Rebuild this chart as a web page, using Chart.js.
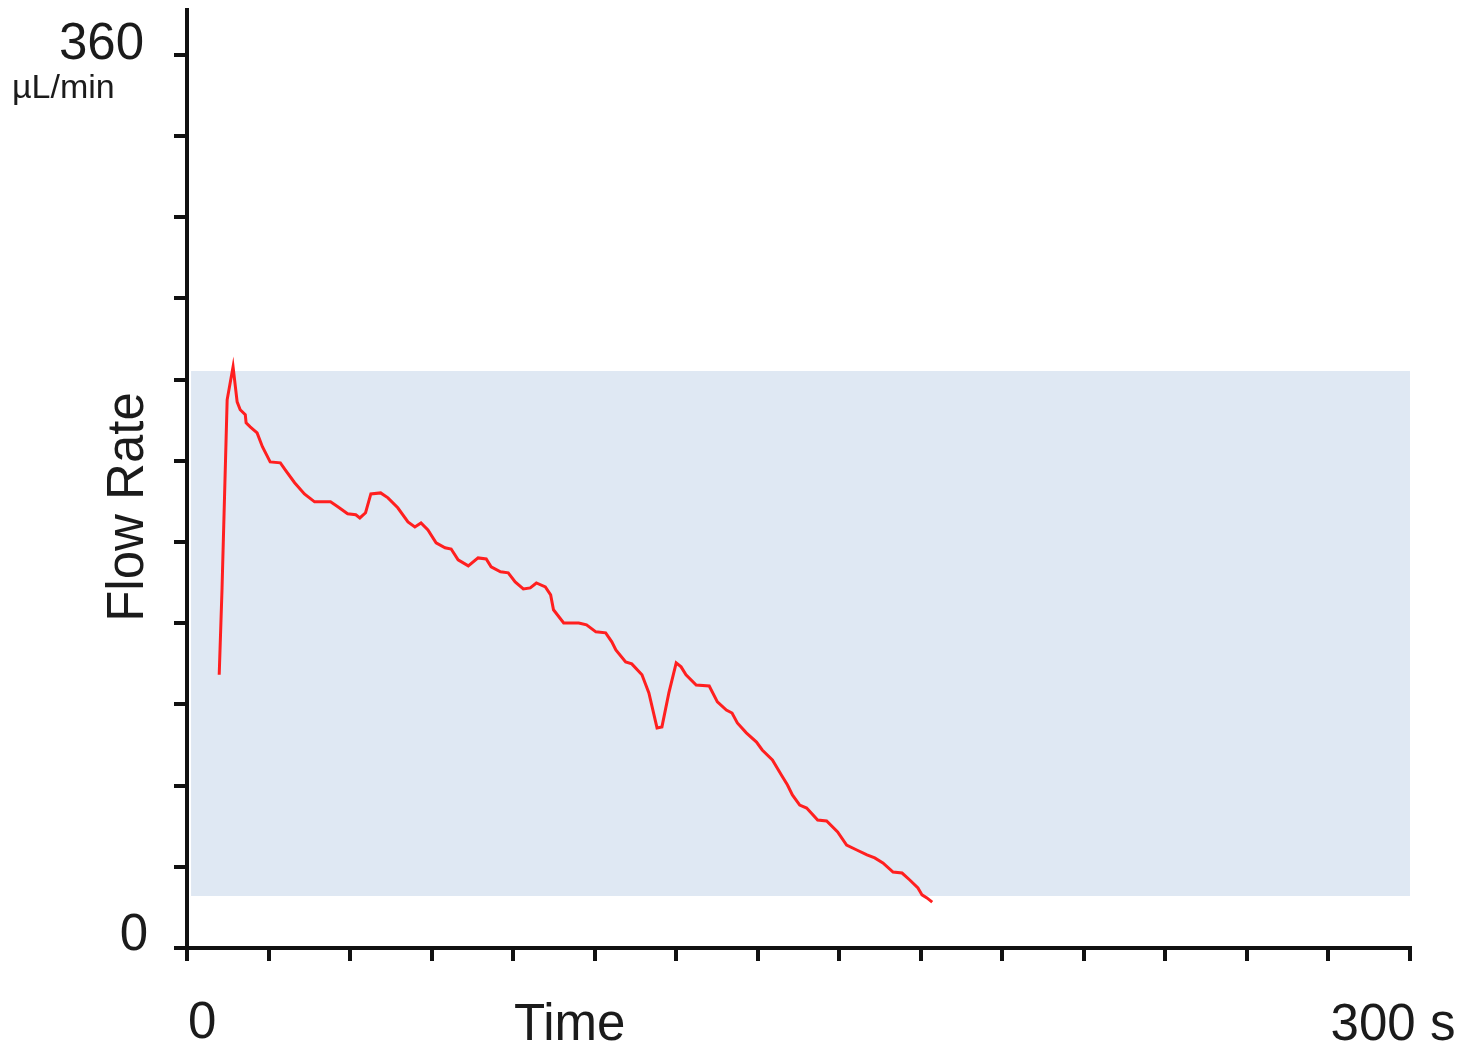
<!DOCTYPE html>
<html lang="en">
<head>
    <meta charset="UTF-8">
    <title>Flow Rate</title>
    <script src="https://cdn.jsdelivr.net/npm/chart.js"></script>
    <style>
        body { margin: 0; background: #fff; }
        canvas { display: block; }
    </style>
</head>
<body>
    <canvas id="flowChart" width="1460" height="1045"></canvas>
    <script>
        // measured flow trace (time in s, flow in µL/min)
        const times = [7.9, 8.6, 9.85, 11.3, 12.3, 13.05, 14.3, 14.5, 15.5, 17.2, 18.5, 20.4, 22.9, 24.1, 26.4, 28.8, 31.3, 35.2,
            37.0, 39.4, 41.4, 42.4, 43.8, 45.1, 47.5, 49.3, 51.7, 54.2, 55.9, 57.4, 59.1, 61.1, 63.3, 64.8, 66.5, 69.0,
            71.4, 73.4, 74.6, 76.9, 78.8, 80.5, 82.5, 84.2, 85.7, 87.9, 89.2, 89.9, 92.4, 96.1, 98.0, 100.3, 102.7, 104.2,
            105.2, 107.6, 109.1, 111.6, 113.3, 115.3, 116.5, 118.2, 120.0, 121.2, 122.4, 124.9, 128.1, 130.1, 132.3, 133.7,
            135.0, 137.2, 139.7, 141.1, 143.6, 145.8, 147.3, 148.5, 150.3, 152.0, 154.7, 156.9, 159.6, 161.8, 164.3, 166.8,
            168.7, 170.7, 173.2, 175.4, 177.3, 179.3, 180.3, 181.5, 182.8];
        const flows = [110.1, 145.1, 220.9, 234.2, 220.1, 216.9, 214.9, 211.6, 210.0, 207.6, 202.0, 195.9, 195.5, 192.7, 187.5, 183.0, 179.8, 179.8,
            177.8, 175.0, 174.6, 173.3, 175.4, 183.0, 183.4, 181.4, 177.4, 171.7, 169.7, 171.3, 168.5, 163.3, 161.3, 160.8, 156.4, 154.0,
            157.2, 156.8, 153.6, 151.6, 151.2, 147.5, 144.7, 145.1, 147.1, 145.5, 142.3, 136.3, 131.0, 131.0, 130.2, 127.4, 127.0, 123.4,
            120.1, 115.3, 114.5, 110.1, 102.8, 88.7, 89.1, 102.8, 114.9, 113.3, 110.1, 106.0, 105.6, 99.2, 95.9, 94.7,
            90.7, 86.7, 83.0, 79.8, 75.8, 69.7, 65.7, 61.7, 57.6, 56.4, 51.6, 51.2, 46.8, 41.5, 39.5, 37.5,
            36.3, 34.3, 30.6, 30.2, 27.4, 24.2, 21.4, 20.2, 18.5];

        // shaded operating range
        const bandLow = 21;
        const bandHigh = 232.5;
        const bandStart = 1;
        const bandEnd = 300;

        const xMax = 300;
        const yMax = 378;
        const yTicks = [0, 32.73, 65.45, 98.18, 130.91, 163.64, 196.36, 229.09, 261.82, 294.55, 327.27, 360];

        const font = '"Liberation Sans", Arial, sans-serif';
        const ink = '#1b1b1b';

        // axis labels drawn next to the scales
        const axisText = {
            id: 'axisText',
            afterDraw(chart) {
                const c = chart.ctx;
                const x = chart.scales.x, y = chart.scales.y;
                c.save();
                c.fillStyle = ink;
                c.font = '51px ' + font;
                c.textBaseline = 'alphabetic';

                c.textAlign = 'right';
                c.fillText('360', 144, y.getPixelForValue(360) + 4);
                c.fillText('0', 148, y.getPixelForValue(0) + 2);

                c.textAlign = 'left';
                c.fillText('0', x.getPixelForValue(0) + 1, 1038);
                c.fillText('Time', 514, 1040);
                c.textAlign = 'center';
                c.fillText('300 s', x.getPixelForValue(300) - 17, 1040);

                c.save();
                c.translate(143, 507);
                c.rotate(-Math.PI / 2);
                c.textAlign = 'center';
                c.fillText('Flow Rate', 0, 0);
                c.restore();

                c.textAlign = 'left';
                c.font = '34px ' + font;
                c.fillText('µL/min', 12, 98);
                c.restore();
            }
        };

        new Chart(document.getElementById('flowChart'), {
            type: 'scatter',
            data: {
                datasets: [{
                    data: times.map((t, i) => ({ x: t, y: flows[i] })),
                    showLine: true,
                    borderColor: '#ff1f1f',
                    borderWidth: 3,
                    pointRadius: 0,
                    fill: false,
                    order: 0
                }, {
                    data: [{ x: bandStart, y: bandHigh }, { x: bandEnd, y: bandHigh }],
                    showLine: true,
                    borderWidth: 0,
                    borderColor: 'rgba(0,0,0,0)',
                    backgroundColor: '#dfe8f3',
                    pointRadius: 0,
                    fill: { value: bandLow },
                    order: 1
                }]
            },
            options: {
                responsive: false,
                animation: false,
                layout: { padding: { left: 0, right: 50, top: 10, bottom: 0 } },
                plugins: { legend: { display: false }, tooltip: { enabled: false } },
                scales: {
                    x: {
                        type: 'linear',
                        min: 0,
                        max: xMax,
                        afterFit: s => { s.height = 97; },
                        ticks: { stepSize: 20, display: false },
                        grid: { drawOnChartArea: false, drawTicks: true, tickLength: 13, lineWidth: 4, color: '#111' },
                        border: { display: true, width: 4, color: '#111' }
                    },
                    y: {
                        min: 0,
                        max: yMax,
                        afterFit: s => { s.width = 187; },
                        afterBuildTicks: s => { s.ticks = yTicks.map(v => ({ value: v })); },
                        ticks: { display: false },
                        grid: { drawOnChartArea: false, drawTicks: true, tickLength: 13, lineWidth: 4, color: '#111' },
                        border: { display: true, width: 4, color: '#111' }
                    }
                }
            },
            plugins: [axisText]
        });
    </script>
</body>
</html>
